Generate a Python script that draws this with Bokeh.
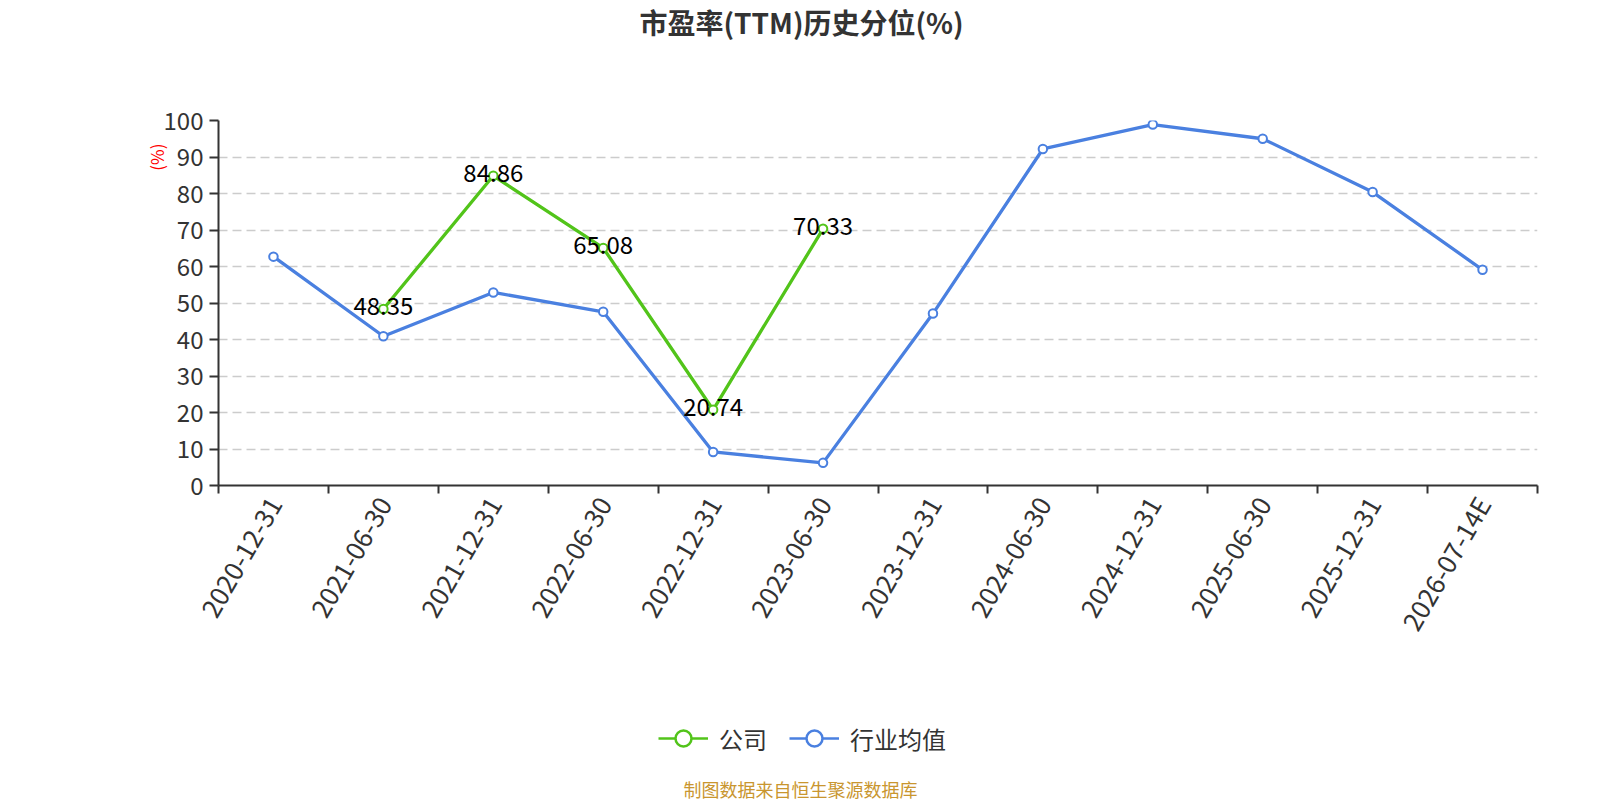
import math
from bokeh.plotting import figure
from bokeh.layouts import column
from bokeh.models import (Range1d, FixedTicker, Legend, LegendItem,
                          ColumnDataSource, Title)
from bokeh.core.properties import value
from bokeh.embed import file_html
from bokeh.resources import INLINE

categories = ["2020-12-31", "2021-06-30", "2021-12-31", "2022-06-30",
              "2022-12-31", "2023-06-30", "2023-12-31", "2024-06-30",
              "2024-12-31", "2025-06-30", "2025-12-31", "2026-07-14E"]
company = [None, 48.35, 84.86, 65.08, 20.74, 70.33,
           None, None, None, None, None, None]
industry = [62.7, 40.9, 52.9, 47.6, 9.2, 6.2, 47.1, 92.2, 98.9, 95.0, 80.4, 59.1]
y_ticks = [0, 10, 20, 30, 40, 50, 60, 70, 80, 90, 100]

title_text = "市盈率(TTM)历史分位(%)"
unit_text = "(%)"
source_text = "制图数据来自恒生聚源数据库"
legend_labels = ["公司", "行业均值"]

FONT = "Noto Sans CJK SC"
GREEN = "#52c41a"
BLUE = "#4a80e0"
DARK = "#333333"

W = 1584
LEFT, RIGHT = 218, 47            # frame borders (frames are aligned in the column)
TOP_H, MAIN_H, BOT_H = 100, 555, 145
MAIN_TOP, FRAME_H = 20, 365


def blank_fig(h):
    f = figure(width=W, height=h, output_backend="svg", toolbar_location=None,
               x_axis_location=None, y_axis_location=None,
               x_range=Range1d(LEFT, W - RIGHT), y_range=Range1d(0, h),
               min_border=0, min_border_left=LEFT, min_border_right=RIGHT)
    f.outline_line_color = None
    f.xgrid.grid_line_color = None
    f.ygrid.grid_line_color = None
    return f


# ---------------- title strip
top = blank_fig(TOP_H)
top.text(x=[801], y=[TOP_H - 21.5], text=[title_text], text_align="center",
         text_baseline="middle", text_font=value(FONT), text_font_size="28px",
         text_font_style="bold", text_color=DARK)

# ---------------- main chart
p = figure(width=W, height=MAIN_H, output_backend="svg", toolbar_location=None,
           x_range=Range1d(0, len(categories)), y_range=Range1d(0, 100),
           min_border_left=LEFT, min_border_right=RIGHT,
           min_border_top=MAIN_TOP, min_border_bottom=MAIN_H - MAIN_TOP - FRAME_H)
p.outline_line_color = None

xc = [i + 0.5 for i in range(len(categories))]

p.xaxis.ticker = FixedTicker(ticks=xc, minor_ticks=list(range(len(categories) + 1)))
p.xaxis.major_label_overrides = {c: lab for c, lab in zip(xc, categories)}
p.xaxis.major_tick_out = 0
p.xaxis.major_tick_in = 0
p.xaxis.minor_tick_out = 8
p.xaxis.minor_tick_in = 0
p.xaxis.minor_tick_line_color = DARK
p.xaxis.minor_tick_line_width = 2
p.xaxis.axis_line_color = DARK
p.xaxis.axis_line_width = 2
p.xaxis.major_label_orientation = math.pi / 3
p.xaxis.major_label_text_font = FONT
p.xaxis.major_label_text_font_size = "26px"
p.xaxis.major_label_text_color = DARK
p.xaxis.major_label_standoff = 5

p.yaxis.ticker = FixedTicker(ticks=y_ticks)
p.yaxis.major_tick_out = 9
p.yaxis.major_tick_in = 0
p.yaxis.minor_tick_line_color = None
p.yaxis.major_tick_line_color = DARK
p.yaxis.major_tick_line_width = 2
p.yaxis.axis_line_color = DARK
p.yaxis.axis_line_width = 2
p.yaxis.major_label_text_font = FONT
p.yaxis.major_label_text_font_size = "24px"
p.yaxis.major_label_text_color = DARK
p.yaxis.major_label_standoff = 6

p.xgrid.grid_line_color = None
p.ygrid.ticker = FixedTicker(ticks=y_ticks[1:])
p.ygrid.grid_line_color = "#cccccc"
p.ygrid.grid_line_dash = "9 5"
p.ygrid.grid_line_width = 1.5

src = ColumnDataSource(dict(
    x=xc,
    company=[float("nan") if v is None else v for v in company],
    industry=industry,
    clabel=["" if v is None else f"{v:.2f}" for v in company],
))

p.line("x", "company", source=src, color=GREEN, line_width=3.3)
p.scatter("x", "company", source=src, size=8.5, fill_color="white",
          line_color=GREEN, line_width=2)
p.line("x", "industry", source=src, color=BLUE, line_width=3.3)
p.scatter("x", "industry", source=src, size=8.5, fill_color="white",
          line_color=BLUE, line_width=2)
p.text("x", "company", text="clabel", source=src, text_align="center",
       text_baseline="middle", text_font=value(FONT), text_font_size="24px",
       text_color="black", y_offset=-3)

p.add_layout(Title(text=unit_text, align="right", offset=23, vertical_align="bottom",
                   standoff=-16, text_font=FONT, text_font_size="17px",
                   text_font_style="normal", text_color="red"), "left")

# ---------------- legend + source strip
bot = blank_fig(BOT_H)
nan = float("nan")
g_l = bot.line([nan], [nan], color=GREEN, line_width=2.5)
g_s = bot.scatter([nan], [nan], size=16, fill_color="white", line_color=GREEN, line_width=2.5)
b_l = bot.line([nan], [nan], color=BLUE, line_width=2.5)
b_s = bot.scatter([nan], [nan], size=16, fill_color="white", line_color=BLUE, line_width=2.5)
legend = Legend(items=[LegendItem(label=legend_labels[0], renderers=[g_l, g_s]),
                       LegendItem(label=legend_labels[1], renderers=[b_l, b_s])],
                orientation="horizontal", location=(658 - LEFT, 42),
                padding=0, margin=0, spacing=22, glyph_width=50,
                glyph_height=40, label_height=40, label_standoff=11,
                label_text_font=FONT, label_text_font_size="24px",
                label_text_color=DARK, background_fill_alpha=0,
                border_line_color=None)
bot.add_layout(legend, "center")
bot.text(x=[800], y=[12], text=[source_text], text_align="center",
         text_baseline="middle", text_font=value(FONT), text_font_size="18px",
         text_color="#c9962f")

layout = column(top, p, bot, spacing=0)
open("out.html", "w").write(file_html(layout, INLINE))
